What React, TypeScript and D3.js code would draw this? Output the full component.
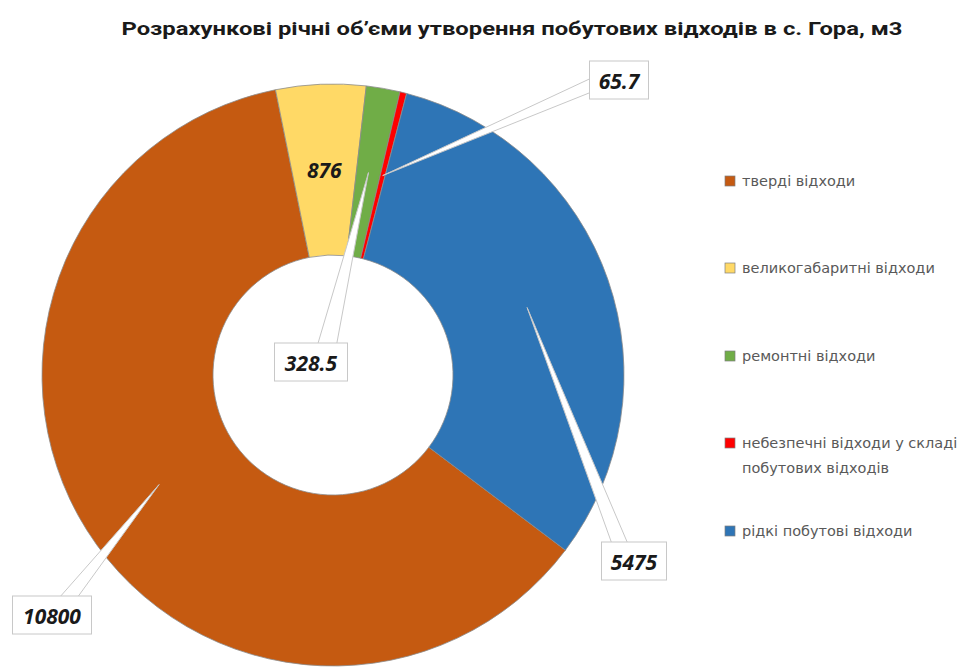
import { useMemo } from 'react';
import * as d3 from 'd3';

const W = 973;
const H = 668;

const title = 'Розрахункові річні об’єми утворення побутових відходів в с. Гора, м3';

const categories = [
  'тверді відходи',
  'великогабаритні відходи',
  'ремонтні відходи',
  'небезпечні відходи у складі побутових відходів',
  'рідкі побутові відходи',
];
const values = [10800, 876, 328.5, 65.7, 5475];
const valueLabels = ['10800', '876', '328.5', '65.7', '5475'];
const colors = ['#C55A11', '#FFD966', '#70AD47', '#FF0000', '#2E75B6'];

// legend lines (the 4th item wraps)
const legendLines = [
  ['тверді відходи'],
  ['великогабаритні відходи'],
  ['ремонтні відходи'],
  ['небезпечні відходи у складі', 'побутових відходів'],
  ['рідкі побутові відходи'],
];

// where Excel's dragged label boxes ended up (null = label stays on the slice)
const labelBoxes = [
  { cx: 52, cy: 615, w: 79, side: 'top', off: 16, bw: 18 },
  null,
  { cx: 311, cy: 362, w: 73, side: 'top', off: 16, bw: 19 },
  { cx: 619, cy: 80, w: 59, side: 'left', off: 5, bw: 14 },
  { cx: 634, cy: 561, w: 65, side: 'top', off: -14, bw: 16 },
];

const specs = {
  cx: 333,
  cy: 375,
  outer: 291,
  inner: 120,
  startDeg: 127,
  boxH: 38,
};

const labelFont = '"Open Sans", "Liberation Sans", sans-serif';

const App = () => {
  const arcs = useMemo(() => {
    const start = (specs.startDeg * Math.PI) / 180;
    const pieGen = d3
      .pie<number>()
      .sort(null)
      .value((d) => d)
      .startAngle(start)
      .endAngle(start + 2 * Math.PI);
    return pieGen(values);
  }, []);

  const arcGen = d3
    .arc<d3.PieArcDatum<number>>()
    .innerRadius(specs.inner)
    .outerRadius(specs.outer);

  const slices = arcs.map((a, i) => (
    <path key={i} d={arcGen(a) || ''} fill={colors[i]} stroke="#8c8c8c" strokeWidth={0.8} />
  ));

  const labels = arcs.map((a, i) => {
    const [tx, ty] = arcGen.centroid(a);
    const tipX = specs.cx + tx;
    const tipY = specs.cy + ty;
    const box = labelBoxes[i];
    if (!box) {
      return (
        <text
          key={i}
          x={tipX}
          y={tipY}
          textAnchor="middle"
          dominantBaseline="central"
          fontFamily={labelFont}
          fontWeight={700}
          fontStyle="italic"
          fontSize={21}
          fill="#1a1a1a"
        >
          {valueLabels[i]}
        </text>
      );
    }
    const x0 = box.cx - box.w / 2;
    const y0 = box.cy - specs.boxH / 2;
    let b1: [number, number];
    let b2: [number, number];
    if (box.side === 'top') {
      b1 = [box.cx + box.off - box.bw / 2, y0 + 2];
      b2 = [box.cx + box.off + box.bw / 2, y0 + 2];
    } else {
      b1 = [x0 + 2, box.cy + box.off - box.bw / 2];
      b2 = [x0 + 2, box.cy + box.off + box.bw / 2];
    }
    const wedge = d3.line()([[tipX, tipY], b1, b2, [tipX, tipY]]) || '';
    return (
      <g key={i}>
        <path d={wedge} fill="#ffffff" stroke="#c8c8c8" strokeWidth={1} strokeLinejoin="round" />
        <rect x={x0} y={y0} width={box.w} height={specs.boxH} fill="#ffffff" stroke="#c8c8c8" strokeWidth={1} />
        <text
          x={box.cx}
          y={box.cy + 1}
          textAnchor="middle"
          dominantBaseline="central"
          fontFamily={labelFont}
          fontWeight={700}
          fontStyle="italic"
          fontSize={21}
          fill="#1a1a1a"
        >
          {valueLabels[i]}
        </text>
      </g>
    );
  });

  const legendY = [181, 268, 356, 443, 531];
  const legend = categories.map((c, i) => (
    <g key={c} transform={`translate(725, ${legendY[i]})`}>
      <rect x={0} y={-5} width={10} height={10} fill={colors[i]} stroke="#7f7f7f" strokeWidth={0.7} />
      {legendLines[i].map((t, j) => (
        <text
          key={j}
          x={17}
          y={j * 25}
          dominantBaseline="central"
          fontFamily='"DejaVu Sans", sans-serif'
          fontSize={14.5}
          fill="#595959"
        >
          {t}
        </text>
      ))}
    </g>
  ));

  return (
    <svg
      width={W}
      height={H}
      style={{ position: 'absolute', left: 0, top: 0, background: '#ffffff' }}
    >
      <text
        x={512}
        y={35}
        textAnchor="middle"
        fontFamily='Roboto, "Noto Sans", sans-serif'
        fontWeight={700}
        fontSize={19}
        textLength={781}
        lengthAdjust="spacingAndGlyphs"
        fill="#1a1a1a"
      >
        {title}
      </text>
      <g transform={`translate(${specs.cx}, ${specs.cy})`}>{slices}</g>
      {labels}
      {legend}
    </svg>
  );
};

export default App;
